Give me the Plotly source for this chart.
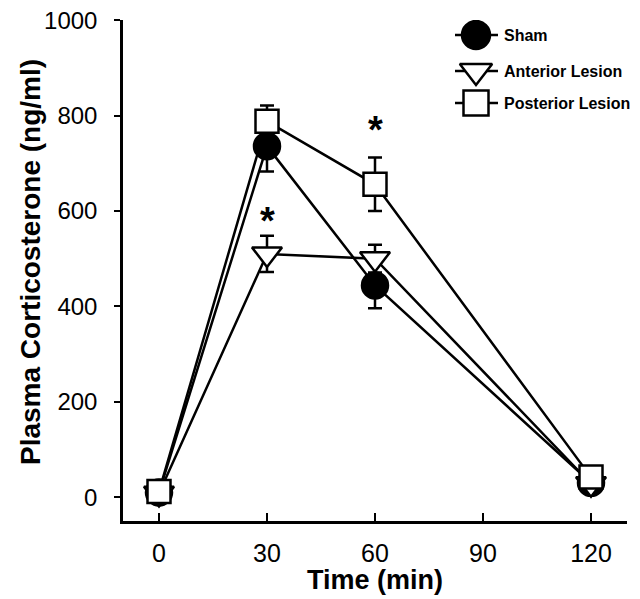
import plotly.graph_objects as go

# time after stress onset (min)
time = [0, 30, 60, 120]

sham = [10, 736, 444, 30]
sham_err = [8, 53, 48, 8]

anterior = [8, 510, 500, 28]
anterior_err = [8, 38, 29, 8]

posterior = [12, 788, 656, 42]
posterior_err = [10, 33, 56, 10]

groups = ['Sham', 'Anterior Lesion', 'Posterior Lesion']
symbols = ['circle', 'triangle-down', 'square']
fills = ['black', 'white', 'white']
sizes = [26, 26, 23]

# significance markers (time, height)
star_x = [30, 60]
star_y = [595, 787]

FONT = 'Liberation Sans, Arial, sans-serif'

fig = go.Figure()

series = [(sham, sham_err), (anterior, anterior_err), (posterior, posterior_err)]
for (vals, errs), name, sym, fill, size in zip(series, groups, symbols, fills, sizes):
    fig.add_trace(go.Scatter(
        x=time, y=vals, name=name, mode='lines+markers',
        line=dict(color='black', width=2.5),
        marker=dict(symbol=sym, size=size, color=fill, line=dict(color='black', width=2.5)),
        error_y=dict(type='data', array=errs, visible=True, color='black', thickness=2.5, width=7),
        showlegend=False,
    ))

for sx, sy in zip(star_x, star_y):
    fig.add_annotation(x=sx, y=sy, text='<b>*</b>', showarrow=False,
                       font=dict(family=FONT, size=38, color='black'), yshift=-8)

# hand-made legend on a hidden axis pair (pixel-like units)
rows = [27, 63, 95]
for name, sym, fill, size, ry in zip(groups, symbols, fills, sizes, rows):
    fig.add_trace(go.Scatter(x=[447, 490], y=[ry, ry], mode='lines', xaxis='x2', yaxis='y2',
                             line=dict(color='black', width=2.5), showlegend=False, hoverinfo='skip'))
    fig.add_trace(go.Scatter(x=[468], y=[ry], mode='markers', xaxis='x2', yaxis='y2',
                             marker=dict(symbol=sym, size=size + 2, color=fill, line=dict(color='black', width=2.5)),
                             showlegend=False, hoverinfo='skip'))
    fig.add_annotation(x=495, y=ry, xref='x2', yref='y2', text=f'<b>{name}</b>', showarrow=False,
                       xanchor='left', borderpad=0, font=dict(family=FONT, size=16, color='black'))

# axis titles as annotations so their place does not depend on automargin
fig.add_annotation(x=0.5, y=-(572 - 513) / 501, xref='paper', yref='paper', text='<b>Time (min)</b>',
                   showarrow=False, xanchor='center', yanchor='middle',
                   font=dict(family=FONT, size=27, color='black'))
fig.add_annotation(x=(22 - 115) / 504, y=(513 - 254) / 501, xref='paper', yref='paper',
                   text='<b>Plasma Corticosterone (ng/ml)</b>', textangle=-90,
                   showarrow=False, xanchor='center', yanchor='middle',
                   font=dict(family=FONT, size=28, color='black'))

fig.update_layout(
    width=640, height=599,
    margin=dict(l=115, r=21, t=12, b=86),
    paper_bgcolor='white', plot_bgcolor='white',
    font=dict(family=FONT, color='black'),
    xaxis=dict(
        range=[-10, 130], tickvals=[0, 30, 60, 90, 120],
        ticks='inside', ticklen=8, tickwidth=2, tickcolor='black',
        showline=True, linewidth=2.5, linecolor='black',
        showgrid=False, zeroline=False, automargin=False,
        tickfont=dict(size=25), ticklabelstandoff=8,
    ),
    yaxis=dict(
        range=[-50, 1000.5], tickvals=[0, 200, 400, 600, 800, 1000],
        ticks='outside', ticklen=6, tickwidth=2, tickcolor='black',
        showline=True, linewidth=2.5, linecolor='black',
        showgrid=False, zeroline=False, automargin=False,
        tickfont=dict(size=24), ticklabelstandoff=12, ticklabeloverflow='allow',
    ),
    xaxis2=dict(domain=[(440 - 115) / 504, 1], range=[440, 619], anchor='y2', visible=False, fixedrange=True),
    yaxis2=dict(domain=[1 - 100 / 501, 1], range=[112, 12], anchor='x2', visible=False, fixedrange=True),
)

fig.write_html('out.html')
